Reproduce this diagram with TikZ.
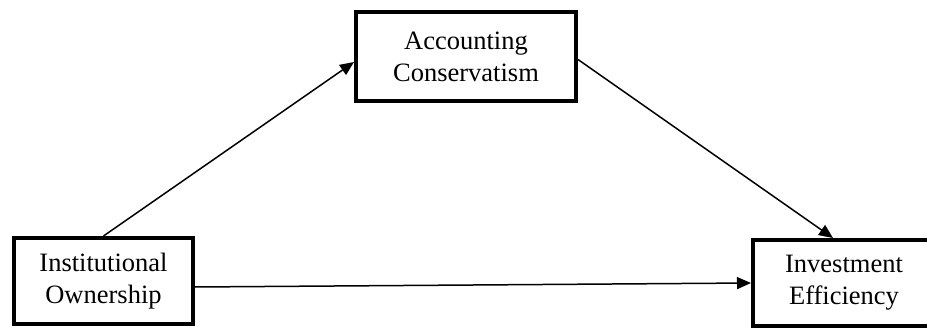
\documentclass[tikz,border=0pt]{standalone}
\usepackage{fontspec}
\setmainfont{Liberation Serif}
\usetikzlibrary{arrows.meta,calc}
\begin{document}
\begin{tikzpicture}[x=1pt,y=-1pt,
  varbox/.style={draw=black,line width=4pt,fill=white,align=center,
    font=\fontsize{26.5}{32}\selectfont,inner sep=0pt},
  conn/.style={line width=1.5pt,-{Triangle[length=14pt,width=12pt]}}]
\useasboundingbox (0,0) rectangle (927,329);
\node[varbox,minimum width=179pt,minimum height=86pt] (L) at (103.5,281) {Institutional\\Ownership};
\node[varbox,minimum width=220pt,minimum height=89pt] (T) at (466,56.5) {Accounting\\Conservatism};
\node[varbox,minimum width=182pt,minimum height=86pt] (R) at (844,283) {Investment\\Efficiency};
\draw[conn] (L.north) -- ($(T.west)+(0,5.5)$);
\draw[conn] ($(T.east)+(0,3)$) -- ($(R.north)+(-11,0)$);
\draw[conn] ($(L.east)+(0,6)$) -- (R.west);
\end{tikzpicture}
\end{document}
